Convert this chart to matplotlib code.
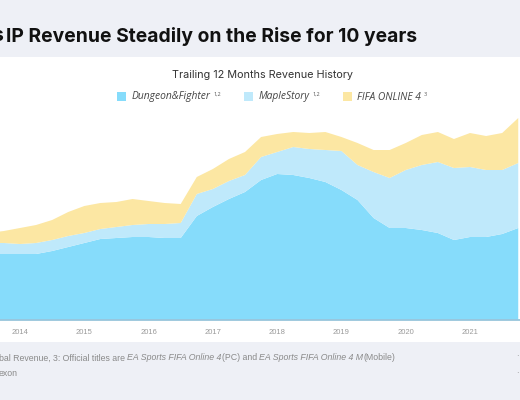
import numpy as np
import pandas as pd
import matplotlib
matplotlib.use('Agg')
import matplotlib.pyplot as plt
from matplotlib.patches import Rectangle

# quarterly trailing-12-month revenue (relative units)
quarters = pd.period_range('2013Q3', '2021Q4', freq='Q')
dnf = [65.5, 65.5, 65.5, 65.5, 68.5, 72.5, 76.5, 80.5, 81.5, 82.5, 82.5, 81.5, 81.5,
       103.5, 112.5, 120.5, 127.5, 139.5, 145.5, 144.5, 141.5, 137.5, 129.5, 119.5,
       101.5, 91.5, 91.5, 89.5, 86.5, 79.5, 82.5, 82.5, 85.5, 91.5]
maple = [11, 11, 10, 11, 11, 11, 10, 10, 11, 12, 13, 14, 15,
         22, 18, 18, 17, 23, 22, 28, 29, 32, 39, 35,
         46, 50, 58, 65, 71, 72, 70, 67, 64, 65]
fifa = [10, 12, 16, 18, 20, 24, 27, 26, 25, 26, 23, 21, 19,
        17, 20, 22, 23, 20, 18, 15, 16, 18, 14, 22,
        22, 28, 27, 30, 30, 29, 34, 34, 37, 45]
years = list(range(2014, 2022))
series_names = ['Dungeon&Fighter', 'MapleStory', 'FIFA ONLINE 4']
series_notes = ['1,2', '1,2', '3']
colors = ['#86dcfb', '#bfe9fb', '#fce7a3']

W, H = 520, 400
def fx(px):
    return px / W
def fy(py):
    return 1 - py / H

fig = plt.figure(figsize=(5.2, 4.0), dpi=100, facecolor='#eef0f6')
renderer = fig.canvas.get_renderer()
# white panel behind the chart
fig.add_artist(Rectangle((0, fy(342)), 1, fy(57) - fy(342), transform=fig.transFigure,
                         facecolor='white', edgecolor='none', zorder=0))

x = quarters.year + (quarters.quarter - 1) / 4
ax = fig.add_axes([0, fy(319.5), 1, (319.5 - 105) / H])
ax.set_facecolor('none')
ax.stackplot(x, dnf, maple, fifa, colors=colors, linewidth=0)
ax.set_xlim(2014 - 20 / 64.29, 2014 + 500 / 64.29)
ax.set_ylim(0, 214.5)
for s in ['top', 'left', 'right']:
    ax.spines[s].set_visible(False)
ax.spines['bottom'].set_color('#8fc0d8')
ax.spines['bottom'].set_linewidth(1.2)
ax.set_yticks([])
ax.set_xticks(years)
ax.set_xticklabels([str(y) for y in years], family='Liberation Sans')
ax.tick_params(axis='x', length=0, pad=6.5, labelsize=5.5, labelcolor='#9a9a9a')

# titles (the slide is cropped on the left, so only the tail of the first word shows)
title_kw = dict(va='center', fontsize=13.9, fontweight='bold', family='Inter', color='#111111')
fig.text(fx(417), fy(36), 'IP Revenue Steadily on the Rise for 10 years', ha='right', **title_kw)
fig.text(fx(3.5), fy(36), 's', ha='right', **title_kw)
fig.text(fx(263), fy(75), 'Trailing 12 Months Revenue History', ha='center', va='center',
         fontsize=7.8, family='Inter', color='#333333')

# legend
patch_x = [117, 244, 343]
label_x = [132, 259, 357]
for i in range(3):
    fig.add_artist(Rectangle((fx(patch_x[i]), fy(101.5)), fx(9), 9 / H, transform=fig.transFigure,
                             facecolor=colors[i], edgecolor='none'))
    lab = fig.text(fx(label_x[i]), fy(97), series_names[i], ha='left', va='center', fontsize=7.4,
                   style='italic', family=['Open Sans', 'DejaVu Sans'], color='#444444')
    end = lab.get_window_extent(renderer).x1
    fig.text(fx(end + 2.5), fy(94), series_notes[i], ha='left', va='center', fontsize=4,
             family='Open Sans', color='#555555')

# footnotes with italic titles
def seg_text(px, py, parts):
    cur = fx(px)
    for txt, st in parts:
        t = fig.text(cur, fy(py), txt, ha='left', va='center', fontsize=6.3, style=st,
                     family='Liberation Sans', color='#8a8a8a')
        bb = t.get_window_extent(renderer)
        cur = bb.x1 / fig.dpi / fig.get_figwidth()

seg_text(-1, 358, [('bal Revenue, 3: Official titles are ', 'normal'),
                   ('EA Sports FIFA Online 4', 'italic'),
                   ('(PC) and ', 'normal'),
                   ('EA Sports FIFA Online 4 M', 'italic'),
                   ('(Mobile)', 'normal')])
seg_text(-1, 374, [('exon', 'normal')])
fig.text(fx(516), fy(357), '·', ha='left', va='center', fontsize=6, color='#8a8a8a')
fig.text(fx(516), fy(374), '·', ha='left', va='center', fontsize=6, color='#8a8a8a')

fig.savefig('out.png', dpi=100, facecolor=fig.get_facecolor())
